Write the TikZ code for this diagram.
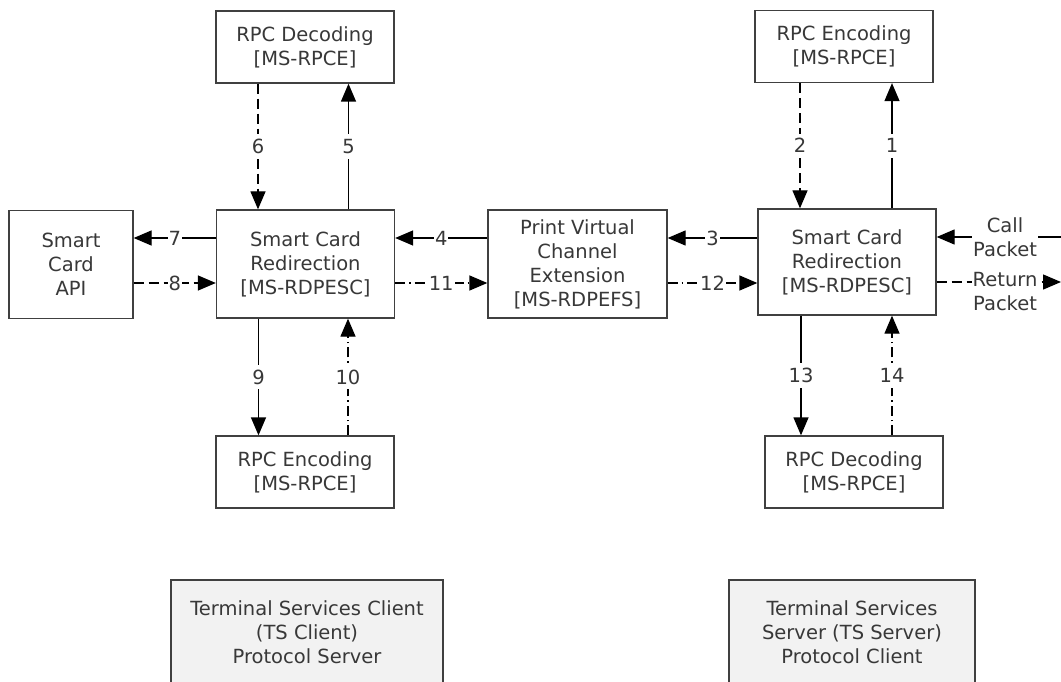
\documentclass[tikz,border=0pt]{standalone}
\usepackage{fontspec}
\setmainfont{DejaVu Sans}
\usepackage{xcolor}
\definecolor{boxline}{HTML}{404040}
\definecolor{textgray}{HTML}{383838}
\definecolor{termfill}{HTML}{F2F2F2}
\usepackage{tikz}
\usetikzlibrary{arrows.meta}

\begin{document}
\begin{tikzpicture}[x=1pt, y=-1pt]
    \tikzset{%
        every node/.style={font=\fontsize{19.5}{24}\selectfont, text=textgray},
        block/.style={draw=boxline, line width=1.3pt, fill=white, align=center,
                inner sep=2pt, minimum width=178pt, minimum height=72pt},
        bigblock/.style={block, minimum height=108pt},
        termbox/.style={block, fill=termfill, line width=2pt, minimum height=104pt},
        flow/.style={line width=1.3pt, -{Triangle[length=18pt, width=15pt]}},
        retflow/.style={flow, dash pattern=on 10pt off 5pt},
        dotflow/.style={flow, dash pattern=on 10pt off 4pt on 1.5pt off 4pt},
        num/.style={fill=white, inner xsep=1pt, inner ysep=5pt},
    }
    \useasboundingbox (0,0) rectangle (1061,682);
    \clip (0,0) rectangle (1061,682);

    % client side
    \node[block] (decL) at (305,47) {RPC Decoding\\{}[MS-RPCE]};
    \node[bigblock, minimum width=124pt] (api) at (71,264.5) {Smart\\Card\\API};
    \node[bigblock] (scrL) at (305.5,264) {Smart Card\\Redirection\\{}[MS-RDPESC]};
    \node[block] (encL) at (305,472) {RPC Encoding\\{}[MS-RPCE]};
    \node[termbox, minimum width=272pt] (tsclient) at (307,632) {Terminal Services Client\\(TS Client)\\Protocol Server};

    \node[bigblock, minimum width=179pt] (pvc) at (577.5,264) {Print Virtual\\Channel\\Extension\\{}[MS-RDPEFS]};

    % server side
    \node[block] (encR) at (844,46.5) {RPC Encoding\\{}[MS-RPCE]};
    \node[bigblock, minimum height=106pt] (scrR) at (847,262) {Smart Card\\Redirection\\{}[MS-RDPESC]};
    \node[block] (decR) at (854,472) {RPC Decoding\\{}[MS-RPCE]};
    \node[termbox, minimum width=246pt] (tsserver) at (852,632) {Terminal Services\\Server (TS Server)\\Protocol Client};

    \coordinate (callin) at (1061,237);
    \coordinate (retout) at (1061,282);

    % calls, numbered in order
    \draw[flow] ([xshift=45pt]scrR.north) -- ([xshift=45pt]scrR.north |- encR.south) node[num, midway] {1};
    \draw[retflow] ([xshift=-44pt]encR.south) -- ([xshift=-44pt]encR.south |- scrR.north) node[num, midway] {2};
    \draw[flow] ([yshift=24pt]scrR.west) -- ([yshift=24pt]scrR.west -| pvc.east) node[num, midway] {3};
    \draw[flow] ([yshift=26pt]pvc.west) -- ([yshift=26pt]pvc.west -| scrL.east) node[num, midway] {4};
    \draw[flow] ([xshift=43pt]scrL.north) -- ([xshift=43pt]scrL.north |- decL.south) node[num, midway] {5};
    \draw[retflow] ([xshift=-47pt]decL.south) -- ([xshift=-47pt]decL.south |- scrL.north) node[num, midway] {6};
    \draw[flow] ([yshift=26pt]scrL.west) -- ([yshift=26pt]scrL.west -| api.east) node[num, midway] {7};
    \draw[retflow] ([yshift=-18.5pt]api.east) -- ([yshift=-18.5pt]api.east -| scrL.west) node[num, midway] {8};
    \draw[flow] ([xshift=-47pt]scrL.south) -- ([xshift=-47pt]scrL.south |- encL.north) node[num, midway] {9};
    \draw[dotflow] ([xshift=43pt]encL.north) -- ([xshift=43pt]encL.north |- scrL.south) node[num, midway] {10};
    \draw[dotflow] ([yshift=-19pt]scrL.east) -- ([yshift=-19pt]scrL.east -| pvc.west) node[num, midway] {11};
    \draw[dotflow] ([yshift=-19pt]pvc.east) -- ([yshift=-19pt]pvc.east -| scrR.west) node[num, midway] {12};
    \draw[flow] ([xshift=-46pt]scrR.south) -- ([xshift=-46pt]scrR.south |- decR.north) node[num, midway] {13};
    \draw[dotflow] ([xshift=38pt]decR.north) -- ([xshift=38pt]decR.north |- scrR.south) node[num, midway] {14};

    \draw[flow] (callin) -- (callin -| scrR.east) node[num, pos=0.45, align=center, inner ysep=1pt] {Call\\Packet};
    \draw[retflow] (retout -| scrR.east) -- (retout) node[num, pos=0.55, align=center, inner ysep=1pt, yshift=-10pt] {Return\\Packet};
\end{tikzpicture}
\end{document}
